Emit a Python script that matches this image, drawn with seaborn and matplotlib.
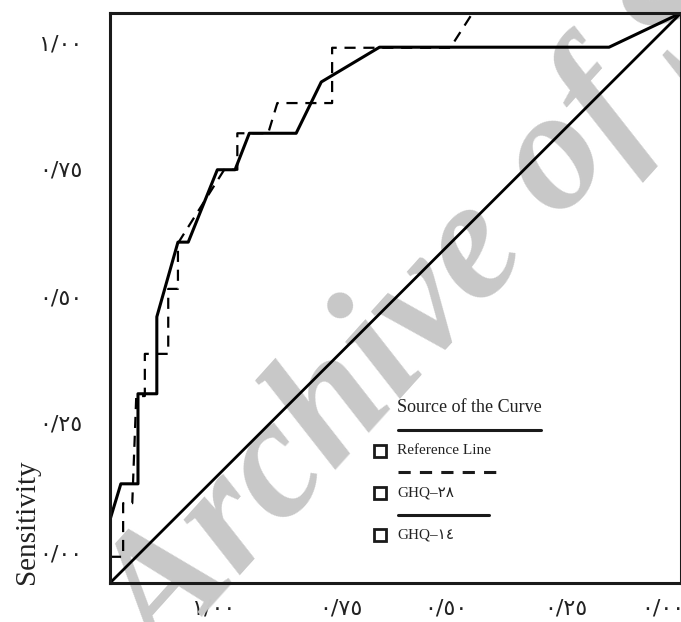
# ROC curves for GHQ-14 and GHQ-28 (axis labels in Arabic-Indic digits)

import pandas as pd
import seaborn as sns
import matplotlib.pyplot as plt

# curve points: x = 1 - specificity, y = sensitivity
ghq14_x = [0.0, 0.019, 0.049, 0.049, 0.082, 0.082, 0.119, 0.137, 0.188, 0.219,
           0.244, 0.326, 0.370, 0.472, 0.874, 1.0]
ghq14_y = [0.111, 0.174, 0.174, 0.332, 0.332, 0.467, 0.598, 0.598, 0.725, 0.725,
           0.789, 0.789, 0.879, 0.940, 0.940, 1.0]

ghq28_x = [0.0, 0.023, 0.023, 0.039, 0.046, 0.061, 0.061, 0.102, 0.102, 0.119,
           0.119, 0.200, 0.223, 0.223, 0.277, 0.293, 0.389, 0.389, 0.596, 0.635]
ghq28_y = [0.046, 0.046, 0.140, 0.140, 0.328, 0.328, 0.402, 0.402, 0.516, 0.516,
           0.596, 0.725, 0.725, 0.789, 0.789, 0.842, 0.842, 0.939, 0.939, 1.0]

ref_x = [0.0, 1.0]
ref_y = [0.0, 1.0]

tick_labels = ['١/٠٠', '٠/٧٥', '٠/٥٠', '٠/٢٥', '٠/٠٠']
legend_title = 'Source of the Curve'
legend_labels = ['Reference Line', 'GHQ–٢٨', 'GHQ–١٤']
y_title = 'Sensitivity'
watermark = 'Archive of SID'

# where the (misplaced) labels sit in the original
x_tick_pos = [0.181, 0.404, 0.588, 0.798, 0.968]
y_tick_pos = [0.949, 0.728, 0.502, 0.281, 0.054]

W, H = 681, 622


def fpx(x, y):
    # pixel position -> figure fraction
    return x / W, 1 - y / H


sns.set_style('white')
plt.rcParams['font.family'] = ['Liberation Serif', 'DejaVu Sans']

fig = plt.figure(figsize=(W / 100, H / 100), dpi=100)
ax = fig.add_axes([110 / W, 39 / H, 571 / W, 570 / H])

df14 = pd.DataFrame({'x': ghq14_x, 'y': ghq14_y})
df28 = pd.DataFrame({'x': ghq28_x, 'y': ghq28_y})
dfref = pd.DataFrame({'x': ref_x, 'y': ref_y})

sns.lineplot(data=dfref, x='x', y='y', color='black', lw=2.0,
             sort=False, estimator=None, ax=ax)
sns.lineplot(data=df28, x='x', y='y', color='black', lw=1.6,
             sort=False, estimator=None, ax=ax)
ax.lines[-1].set_dashes([5, 3.5])
sns.lineplot(data=df14, x='x', y='y', color='black', lw=2.2,
             sort=False, estimator=None, ax=ax)

ax.set_xlim(0, 1)
ax.set_ylim(0, 1)
ax.margins(0)

for s in ax.spines.values():
    s.set_color('#1a1a1a')
    s.set_linewidth(2.2)

ax.set_xticks(x_tick_pos)
ax.set_xticklabels(tick_labels, fontsize=16, family=['DejaVu Sans'])
ax.set_yticks(y_tick_pos)
ax.set_yticklabels(tick_labels, fontsize=16, family=['DejaVu Sans'])
ax.tick_params(axis='x', length=0, pad=11, colors='#222222')
ax.tick_params(axis='y', length=0, pad=20, colors='#222222')

ax.set_xlabel('')
ax.set_ylabel(y_title, fontsize=21, color='#222222')
ax.yaxis.set_label_coords(-0.122, 0.107)

# watermark behind the curves
ax.text(*fpx(165, 668), watermark, transform=fig.transFigure, rotation=48,
        rotation_mode='anchor', ha='left', va='baseline', fontsize=123,
        fontweight='bold', fontstyle='italic', color='#c8c8c8',
        family=['Liberation Serif'], zorder=1, clip_on=False)

# legend block, drawn as in the original
fig.text(*fpx(397, 407), legend_title, fontsize=13, va='center', ha='left',
         color='#222222')
line_rows = [(430, 541, '-'), (472, 498, (0, (4, 3))), (515, 489, '-')]
label_rows = [451, 493, 535]
for (ly, lx2, ls), ty, lab in zip(line_rows, label_rows, legend_labels):
    x0, y0 = fpx(398, ly)
    x1, _ = fpx(lx2, ly)
    fig.lines.append(plt.Line2D([x0, x1], [y0, y0], transform=fig.transFigure,
                                color='#1a1a1a', lw=2.2, linestyle=ls))
    sx, sy = fpx(380, ty)
    fig.lines.append(plt.Line2D([sx], [sy], transform=fig.transFigure,
                                marker='s', ms=8.5, mfc='white', mec='#1a1a1a',
                                mew=2.0, linestyle='none'))
    fig.text(*fpx(397, ty), lab, fontsize=11, va='center', ha='left',
             color='#222222')

plt.savefig('out.png', dpi=100)
